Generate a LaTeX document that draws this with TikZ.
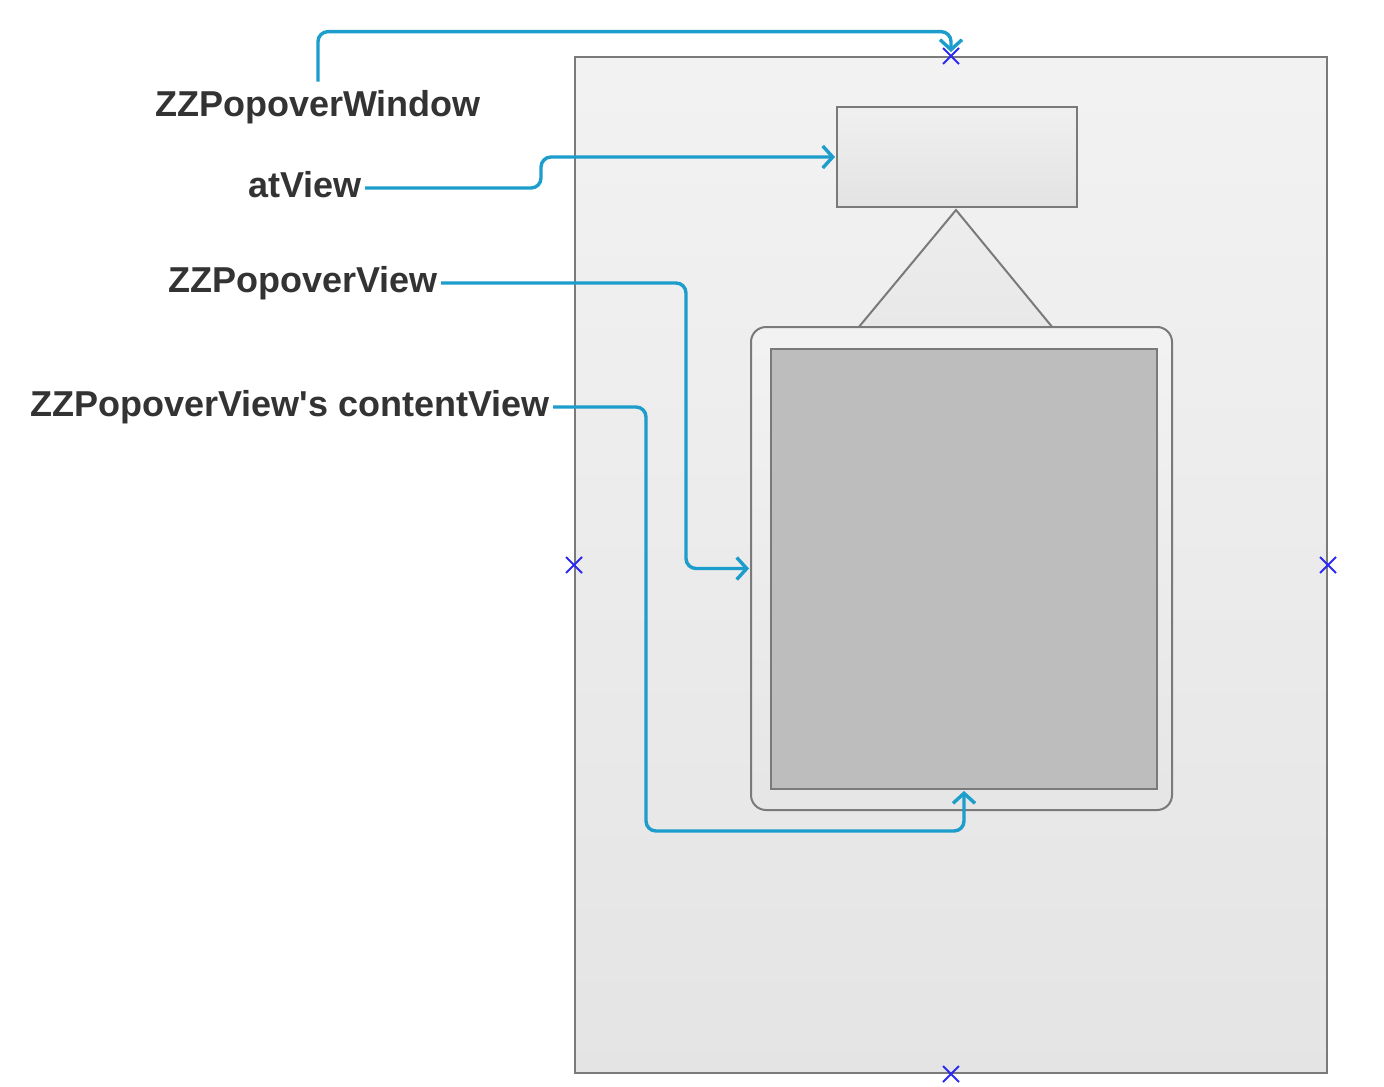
\documentclass[tikz,border=0pt]{standalone}
\usepackage{fontspec}
\setmainfont{Liberation Sans}
\usetikzlibrary{arrows.meta,shapes.misc}
\definecolor{zzBlue}{HTML}{1C9DCC}
\definecolor{zzLine}{HTML}{7A7A7A}
\definecolor{zzText}{HTML}{333333}
\definecolor{zzMark}{HTML}{2B2BF0}
\begin{document}
\begin{tikzpicture}[
  x=0.5pt, y=-0.5pt,
  viewlabel/.style={font=\bfseries\fontsize{18}{20}\selectfont, text=zzText, inner sep=0pt, inner xsep=1.5pt, text height=13pt, text depth=4pt},
  panel/.style={draw=zzLine, line width=1pt, rectangle, inner sep=0pt},
  link/.style={draw=zzBlue, line width=1.7pt, rounded corners=5pt, -{Straight Barb[length=5pt,width=11pt]}},
  anchormark/.style={draw=zzMark, cross out, line width=1pt, minimum size=7pt, inner sep=0pt}
]
\useasboundingbox (0,0) rectangle (1384,1086);

% views
\node[panel, top color=black!5, bottom color=black!10.5, minimum width=376pt, minimum height=508pt] (window) at (951,565) {};
\node[panel, top color=black!6, bottom color=black!11, minimum width=120pt, minimum height=50pt] (atview) at (957,157) {};
\draw[draw=zzLine, line width=1pt, top color=black!7, bottom color=black!9] (956,210) -- (858,328) -- (1053,328) -- cycle;
\node[panel, rounded corners=7.5pt, top color=black!5, bottom color=black!10, minimum width=210.5pt, minimum height=241.5pt] (popover) at (961.5,568.5) {};
\node[panel, fill=black!26, minimum width=193pt, minimum height=220pt] (content) at (964,569) {};

% labels
\node[viewlabel, anchor=base] (winlabel) at (318,117) {ZZPopoverWindow};
\node[viewlabel, anchor=base east] (atlabel) at (365,197) {atView};
\node[viewlabel, anchor=base east] (poplabel) at (441,292) {ZZPopoverView};
\node[viewlabel, anchor=base east] (cvlabel) at (553,416) {ZZPopoverView\textquotesingle s contentView};

% links
\draw[link, shorten <=4.5pt, shorten >=2pt] (winlabel.north) -- ++(0,-59) -| (window.north);
\draw[link, shorten >=0.5pt] (atlabel.east) -- ++(176,0) |- (atview.west);
\draw[link, shorten >=0.5pt] (poplabel.east) -- ++(245,0) |- (popover.west);
\draw[link, shorten >=0.5pt] (cvlabel.east) -- ++(93,0) -- ++(0,424) -| (content.south);

% anchor marks
\node[anchormark] (markn) at (window.north) {};
\node[anchormark] (markw) at (window.west) {};
\node[anchormark] (marke) at (window.east) {};
\node[anchormark] (marks) at (window.south) {};
\end{tikzpicture}
\end{document}
